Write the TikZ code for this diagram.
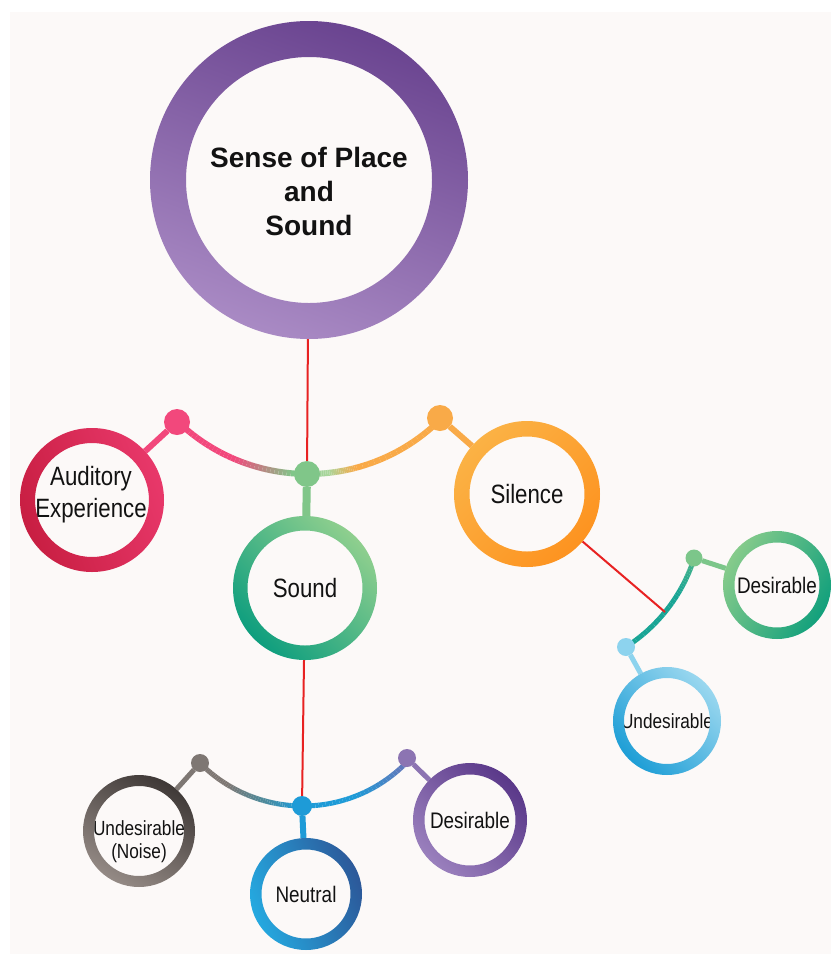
\documentclass[tikz,border=0pt]{standalone}
\usepackage{fontspec}
\setmainfont{Liberation Sans}
\newfontfamily\labfont[FakeStretch=0.84]{Liberation Sans}
\pgfdeclarelayer{bg}
\pgfdeclarelayer{back}
\pgfsetlayers{bg,back,main}
\definecolor{bgc}{HTML}{FCF9F8}
\definecolor{cpink}{HTML}{F2487C}
\definecolor{cgreen}{HTML}{80C689}
\definecolor{clgreen}{HTML}{A9D69C}
\definecolor{corange}{HTML}{F9AA48}
\definecolor{cteal}{HTML}{19A595}
\definecolor{cteal2}{HTML}{4DB489}
\definecolor{cgreen2}{HTML}{7CC68A}
\definecolor{clblue}{HTML}{8DD3EE}
\definecolor{cgrey}{HTML}{7E7773}
\definecolor{cgteal}{HTML}{4F8A9A}
\definecolor{cblue}{HTML}{1E9BD7}
\definecolor{cpurple}{HTML}{8C74B2}
\definecolor{cpblue}{HTML}{6A74B8}
\definecolor{credline}{HTML}{E82222}
% ring colours
\definecolor{rmainA}{HTML}{6A4490}\definecolor{rmainB}{HTML}{A98AC4}
\definecolor{raudA}{HTML}{E8386A}\definecolor{raudB}{HTML}{C81E42}
\definecolor{rsndA}{HTML}{8FCF8E}\definecolor{rsndB}{HTML}{0E9E7E}
\definecolor{rsilA}{HTML}{FBB245}\definecolor{rsilB}{HTML}{FD9320}
\definecolor{rsdesA}{HTML}{86CB8B}\definecolor{rsdesB}{HTML}{12A07C}
\definecolor{rsundA}{HTML}{9AD7EF}\definecolor{rsundB}{HTML}{1E9ED6}
\definecolor{rnoiA}{HTML}{3F3937}\definecolor{rnoiB}{HTML}{948A85}
\definecolor{rneuA}{HTML}{25A9E0}\definecolor{rneuB}{HTML}{2C5899}
\definecolor{rddesA}{HTML}{5A3889}\definecolor{rddesB}{HTML}{9A80BD}
\newcommand\gradarc[7]{%
  \foreach \k in {0,...,15}{%
    \pgfmathsetmacro\aa{#3+(#4-#3)*\k/16}%
    \pgfmathsetmacro\bb{#3+(#4-#3)*(\k+1)/16}%
    \pgfmathtruncatemacro\pp{100*\k/15}%
    \draw[line width=#7, color=#6!\pp!#5] (#1) ++(\aa:#2) arc[start angle=\aa, end angle=\bb, radius=#2];
  }}
\newcommand\ringshade[6]{%
  \shade[even odd rule, top color=#4, bottom color=#5, shading angle=#6]
    (#1.center) circle[radius=#2] (#1.center) circle[radius=#3];}
\tikzset{
  hub/.style={circle, inner sep=0pt, outer sep=0pt, minimum size=#1},
  dot/.style={circle, inner sep=0pt, outer sep=0pt, minimum size=#1},
  biglab/.style={align=center, text=black!93, font=\labfont\fontsize{26.5}{32}\selectfont},
  smalllab/.style={align=center, text=black!93, font=\labfont\fontsize{22.5}{24}\selectfont},
  undlab/.style={align=center, text=black!93, font=\labfont\fontsize{20.5}{23}\selectfont},
  redline/.style={draw=credline, line width=2pt},
  conn/.style={line width=#1},
}
\begin{document}
\begin{tikzpicture}[x=1pt,y=1pt]
\useasboundingbox (0,0) rectangle (831,-954);
\begin{pgfonlayer}{bg}
  \fill[white] (0,0) rectangle (831,-954);
  \fill[bgc] (10,-12) rectangle (831,-954);
\end{pgfonlayer}

% main nodes
\node[hub=318pt] (main) at (309,-180) {};
\node[align=center, text=black!93, font=\bfseries\fontsize{28}{34}\selectfont] (maintext) at (309,-191) {Sense of Place\\and\\Sound};
\node[hub=144pt] (aud) at (92,-500) {};
\node[biglab] (audtext) at (91,-495) {Auditory\\Experience};
\node[hub=144pt, biglab] (snd) at (305,-588) {Sound};
\node[hub=146pt, biglab] (sil) at (527,-494) {Silence};
\node[hub=108pt, smalllab] (sdes) at (777,-585) {Desirable};
\node[hub=108pt, undlab] (sund) at (667,-721) {Undesirable};
\node[hub=112pt] (noise) at (139,-831) {};
\node[undlab] (noisetext) at (139,-842) {Undesirable\\(Noise)};
\node[hub=112pt, smalllab] (neu) at (306,-894) {Neutral};
\node[hub=114pt, smalllab] (ddes) at (470,-820) {Desirable};

% dots
\node[dot=26pt, fill=cpink] (dpink) at (177,-422) {};
\node[dot=26pt, fill=cgreen] (dgreen) at (307,-474) {};
\node[dot=26pt, fill=corange] (dorange) at (440,-418) {};
\node[dot=17pt, fill=cgreen2] (dsgreen) at (694,-558) {};
\node[dot=18pt, fill=clblue] (dsblue) at (626,-647) {};
\node[dot=18pt, fill=cgrey] (dgrey) at (200,-763) {};
\node[dot=20pt, fill=cblue] (dblue) at (302,-806) {};
\node[dot=18pt, fill=cpurple] (dpurple) at (407,-758) {};

% arc centres
\coordinate (topc) at (308,-286);
\coordinate (silc) at (537,-508);
\coordinate (botc) at (303,-661);
\coordinate (sarc) at (665,-612);

\begin{pgfonlayer}{back}
  % top arc
  \gradarc{topc}{188}{226}{246}{cpink}{cpink}{6pt}
  \gradarc{topc}{188}{246}{266}{cpink}{cgreen}{6pt}
  \gradarc{topc}{188}{266}{276}{cgreen}{clgreen}{6pt}
  \gradarc{topc}{188}{276}{285}{clgreen}{corange}{6pt}
  \gradarc{topc}{188}{285}{315}{corange}{corange}{6pt}
  % silence arc
  \gradarc{silc}{165}{-58}{-32}{cteal}{cteal}{5pt}
  \gradarc{silc}{165}{-32}{-17}{cteal}{cteal2}{5pt}
  % bottom arc
  \gradarc{botc}{145}{225}{238}{cgrey}{cgrey}{5pt}
  \gradarc{botc}{145}{238}{254}{cgrey}{cgteal}{5pt}
  \gradarc{botc}{145}{254}{268}{cgteal}{cblue}{5pt}
  \gradarc{botc}{145}{268}{290}{cblue}{cblue}{5pt}
  \gradarc{botc}{145}{290}{317}{cblue}{cpblue}{5pt}

  % red lines
  \draw[redline] (main) -- (dgreen);
  \draw[redline] (snd) -- (dblue);
  \draw[redline] (sil) -- (sarc);

  % connectors
  \draw[conn=6pt, cpink] (dpink) -- (aud);
  \draw[conn=6pt, corange] (dorange) -- (sil);
  \draw[conn=8pt, cgreen] (dgreen) -- (snd);
  \draw[conn=5pt, cgreen2] (dsgreen) -- (sdes);
  \draw[conn=5pt, clblue] (dsblue) -- (sund);
  \draw[conn=5pt, cgrey] (dgrey) -- (noise);
  \draw[conn=6pt, cblue] (dblue) -- (neu);
  \draw[conn=5pt, cpurple] (dpurple) -- (ddes);
\end{pgfonlayer}

% rings
\ringshade{main}{159}{123}{rmainA}{rmainB}{-20}
\ringshade{aud}{72}{57}{raudA}{raudB}{-70}
\ringshade{snd}{72}{57.5}{rsndA}{rsndB}{-45}
\ringshade{sil}{73}{57.5}{rsilA}{rsilB}{45}
\ringshade{sdes}{54}{42.5}{rsdesA}{rsdesB}{60}
\ringshade{sund}{54}{43}{rsundA}{rsundB}{-45}
\ringshade{noise}{56}{45}{rnoiA}{rnoiB}{-30}
\ringshade{neu}{56}{44.5}{rneuA}{rneuB}{110}
\ringshade{ddes}{57}{45.5}{rddesA}{rddesB}{-45}
\end{tikzpicture}
\end{document}
